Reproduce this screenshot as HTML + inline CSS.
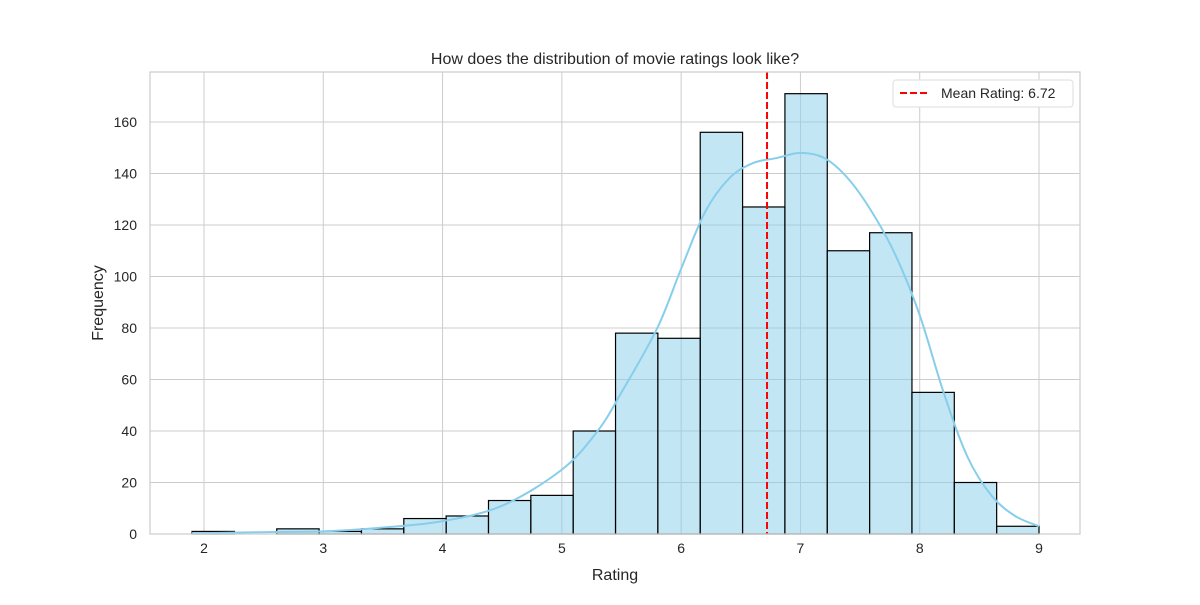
<!DOCTYPE html>
<html><head><meta charset="utf-8"><style>
body{margin:0;background:#fff;font-family:"Liberation Sans",sans-serif}
svg text{font-family:"Liberation Sans",sans-serif;fill:#262626}
</style></head><body>
<svg id="c" width="1200" height="600"></svg>
<script>
const binStart=1.9, binWidth=0.355;
const counts=[1,0,2,1,2,6,7,13,15,40,78,76,156,127,171,110,117,55,20,3];
const xTicks=[2,3,4,5,6,7,8,9];
const yTicks=[0,20,40,60,80,100,120,140,160];
const kdeX=[1.9,2.2,2.6,3,3.5,4,4.5,5,5.3,5.5,5.8,6,6.2,6.4,6.6,6.8,7,7.2,7.4,7.6,7.8,8,8.2,8.4,8.6,8.8,9];
const kdeY=[0.3,0.5,0.8,1,2.5,5,11,25,40,55,80,103,125,138,144,146,148,146,138,125,108,85,55,30,15,7,3];
const meanRating=6.72;
const L=150,R=1080,T=72,B=534;
const xs=v=>204+(v-2)*(1039-204)/7;
const ys=v=>B-v*(B-122)/160;
const svg=document.getElementById('c');const NS='http://www.w3.org/2000/svg';
function mk(t,a,p){const e=document.createElementNS(NS,t);for(const k in a)e.setAttribute(k,a[k]);(p||svg).appendChild(e);return e;}
let e;
xTicks.forEach(t=>{e=mk('line',{x1:xs(t),x2:xs(t),y1:T,y2:B,stroke:'#ccc','stroke-width':1});

e=mk('text',{x:xs(t),y:B+19,'text-anchor':'middle','font-size':14});e.textContent=t;
});
yTicks.forEach(t=>{e=mk('line',{x1:L,x2:R,y1:ys(t),y2:ys(t),stroke:'#ccc','stroke-width':1});

e=mk('text',{x:L-13,y:ys(t)+5,'text-anchor':'end','font-size':14});e.textContent=t;
});
counts.forEach((c,i)=>{if(!c)return;const x0=xs(binStart+i*binWidth),x1=xs(binStart+(i+1)*binWidth);
e=mk('rect',{x:x0,y:ys(c),width:x1-x0,height:B-ys(c),fill:'rgba(135,206,235,0.5)',stroke:'#000','stroke-width':1.2});
});
const P=kdeX.map((x,i)=>[xs(x),ys(kdeY[i])]);
let d='M'+P[0][0]+','+P[0][1];
for(let i=0;i<P.length-1;i++){const p0=P[Math.max(0,i-1)],p1=P[i],p2=P[i+1],p3=P[Math.min(P.length-1,i+2)];
d+='C'+(p1[0]+(p2[0]-p0[0])/6)+','+(p1[1]+(p2[1]-p0[1])/6)+' '+(p2[0]-(p3[0]-p1[0])/6)+','+(p2[1]-(p3[1]-p1[1])/6)+' '+p2[0]+','+p2[1];}
e=mk('path',{d:d,fill:'none',stroke:'#87ceeb','stroke-width':2,'stroke-linejoin':'round'});

e=mk('line',{x1:xs(meanRating),x2:xs(meanRating),y1:T,y2:B,stroke:'#f00','stroke-width':2,'stroke-dasharray':'7,3'});

e=mk('rect',{x:L,y:T,width:R-L,height:B-T,fill:'none',stroke:'#ccc','stroke-width':1.2});

const g=mk('g',{});
mk('rect',{x:893,y:80,width:180,height:27,rx:3,fill:'#fff',stroke:'#ddd'},g);
mk('line',{x1:900,x2:929,y1:93,y2:93,stroke:'#f00','stroke-width':2,'stroke-dasharray':'7,3'},g);
e=mk('text',{x:941,y:98,'font-size':14},g);e.textContent='Mean Rating: '+meanRating.toFixed(2);
e=mk('text',{x:615,y:64,'text-anchor':'middle','font-size':16});e.textContent='How does the distribution of movie ratings look like?';

e=mk('text',{x:615,y:580,'text-anchor':'middle','font-size':16});e.textContent='Rating';

e=mk('text',{x:103,y:303,'text-anchor':'middle','font-size':16,transform:'rotate(-90 103 303)'});e.textContent='Frequency';

</script></body></html>
